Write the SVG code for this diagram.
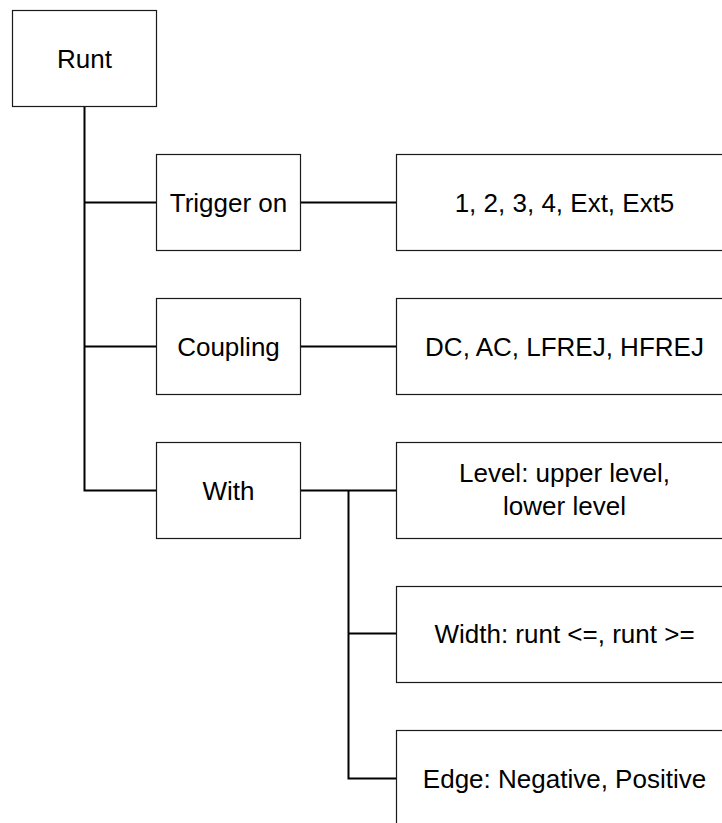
<svg xmlns="http://www.w3.org/2000/svg" width="722" height="823" viewBox="0 0 722 823">
<style>
.box{fill:#fff;stroke:#1a1a1a;stroke-width:1.2}
.t{font-family:"Liberation Sans",Arial,sans-serif;font-size:26px;fill:#000;text-anchor:middle}
.c{fill:none;stroke:#000;stroke-width:2}
</style>
<rect width="722" height="823" fill="#fff"/>
<g id="connectors">
<path class="c" d="M84.5 106.5V490.5H156.5M84.5 202.5H156.5M84.5 346.5H156.5"/>
<path class="c" d="M300.5 202.5H396.5M300.5 346.5H396.5M300.5 490.5H396.5M348.5 490.5V778.5H396.5M348.5 633.5H396.5"/>
</g>
<g id="runt"><rect class="box" x="12.5" y="10.5" width="144" height="96"/><text class="t" x="84.5" y="68">Runt</text></g>
<g id="trigger-on"><rect class="box" x="156.5" y="154.5" width="144" height="96"/><text class="t" x="228.5" y="212">Trigger on</text></g>
<g id="coupling"><rect class="box" x="156.5" y="298.5" width="144" height="96"/><text class="t" x="228.5" y="356">Coupling</text></g>
<g id="with"><rect class="box" x="156.5" y="442.5" width="144" height="96"/><text class="t" x="228.5" y="500">With</text></g>
<g id="sources"><rect class="box" x="396.5" y="154.5" width="336" height="96"/><text class="t" x="564.5" y="212">1, 2, 3, 4, Ext, Ext5</text></g>
<g id="coupling-opts"><rect class="box" x="396.5" y="298.5" width="336" height="96"/><text class="t" x="564.5" y="356">DC, AC, LFREJ, HFREJ</text></g>
<g id="level"><rect class="box" x="396.5" y="442.5" width="336" height="96"/><text class="t" x="564.5" y="482">Level: upper level,</text><text class="t" x="564.5" y="515">lower level</text></g>
<g id="width"><rect class="box" x="396.5" y="586.5" width="336" height="96"/><text class="t" x="564.5" y="643">Width: runt &lt;=, runt &gt;=</text></g>
<g id="edge"><rect class="box" x="396.5" y="730.5" width="336" height="96"/><text class="t" x="564.5" y="788">Edge: Negative, Positive</text></g>
</svg>
